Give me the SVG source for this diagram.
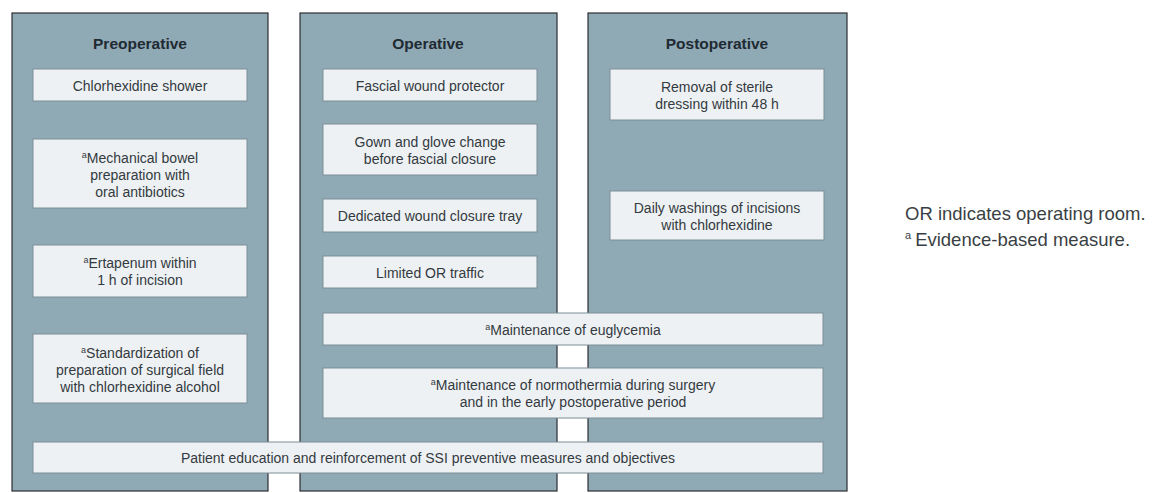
<svg xmlns="http://www.w3.org/2000/svg" width="1169" height="493" viewBox="0 0 1169 493">
<style>
.col{fill:#8fa9b5;stroke:#2b2f33;stroke-width:1.2}
.box{fill:#eef1f4;stroke:#7d8e97;stroke-width:1}
.t{font-family:"Liberation Sans",Arial,sans-serif;font-size:14px;fill:#333a40;text-anchor:middle}
.h{font-family:"Liberation Sans",Arial,sans-serif;font-size:15.5px;font-weight:bold;fill:#1f2a33;text-anchor:middle}
.sup{font-size:9px}
.leg{font-family:"Liberation Sans",Arial,sans-serif;font-size:18.5px;fill:#3a3f44}
</style>
<rect width="1169" height="493" fill="#ffffff"/>
<g id="col-pre"><rect class="col" x="12" y="13" width="256" height="478"/><text class="h" x="140" y="49">Preoperative</text></g>
<g id="col-op"><rect class="col" x="300" y="13" width="257" height="478"/><text class="h" x="428" y="49">Operative</text></g>
<g id="col-post"><rect class="col" x="588" y="13" width="259" height="478"/><text class="h" x="717" y="49">Postoperative</text></g>

<g id="n-shower"><rect class="box" x="33" y="69" width="214" height="32"/><text class="t" x="140" y="91">Chlorhexidine shower</text></g>
<g id="n-bowel"><rect class="box" x="33" y="139" width="214" height="69"/><text class="t" x="140" y="163"><tspan class="sup" dy="-5">a</tspan><tspan dy="5">Mechanical bowel</tspan></text><text class="t" x="140" y="180">preparation with</text><text class="t" x="140" y="197">oral antibiotics</text></g>
<g id="n-ertapenum"><rect class="box" x="33" y="245" width="214" height="52"/><text class="t" x="140" y="268"><tspan class="sup" dy="-5">a</tspan><tspan dy="5">Ertapenum within</tspan></text><text class="t" x="140" y="285">1 h of incision</text></g>
<g id="n-standard"><rect class="box" x="33" y="334" width="214" height="69"/><text class="t" x="140" y="358"><tspan class="sup" dy="-5">a</tspan><tspan dy="5">Standardization of</tspan></text><text class="t" x="140" y="375">preparation of surgical field</text><text class="t" x="140" y="392">with chlorhexidine alcohol</text></g>

<g id="n-fascial"><rect class="box" x="323" y="69" width="214" height="32"/><text class="t" x="430" y="91">Fascial wound protector</text></g>
<g id="n-gown"><rect class="box" x="323" y="124" width="214" height="51"/><text class="t" x="430" y="147">Gown and glove change</text><text class="t" x="430" y="164">before fascial closure</text></g>
<g id="n-tray"><rect class="box" x="323" y="199" width="214" height="33"/><text class="t" x="430" y="221">Dedicated wound closure tray</text></g>
<g id="n-traffic"><rect class="box" x="323" y="256" width="214" height="32"/><text class="t" x="430" y="278">Limited OR traffic</text></g>
<g id="n-eugly"><rect class="box" x="323" y="313" width="500" height="32"/><text class="t" x="573" y="335"><tspan class="sup" dy="-5">a</tspan><tspan dy="5">Maintenance of euglycemia</tspan></text></g>
<g id="n-normo"><rect class="box" x="323" y="368" width="500" height="50"/><text class="t" x="573" y="390"><tspan class="sup" dy="-5">a</tspan><tspan dy="5">Maintenance of normothermia during surgery</tspan></text><text class="t" x="573" y="407">and in the early postoperative period</text></g>

<g id="n-removal"><rect class="box" x="610" y="69" width="214" height="51"/><text class="t" x="717" y="92">Removal of sterile</text><text class="t" x="717" y="109">dressing within 48 h</text></g>
<g id="n-daily"><rect class="box" x="610" y="191" width="214" height="49"/><text class="t" x="717" y="213">Daily washings of incisions</text><text class="t" x="717" y="230">with chlorhexidine</text></g>

<g id="n-education"><rect class="box" x="33" y="442" width="790" height="31"/><text class="t" x="428" y="463">Patient education and reinforcement of SSI preventive measures and objectives</text></g>

<g id="connectors"></g>

<g id="legend">
<text class="leg" x="905" y="220">OR indicates operating room.</text>
<text class="leg" x="905" y="246"><tspan font-size="11" dy="-7">a</tspan><tspan dx="4" dy="7">Evidence-based measure.</tspan></text>
</g>
</svg>
